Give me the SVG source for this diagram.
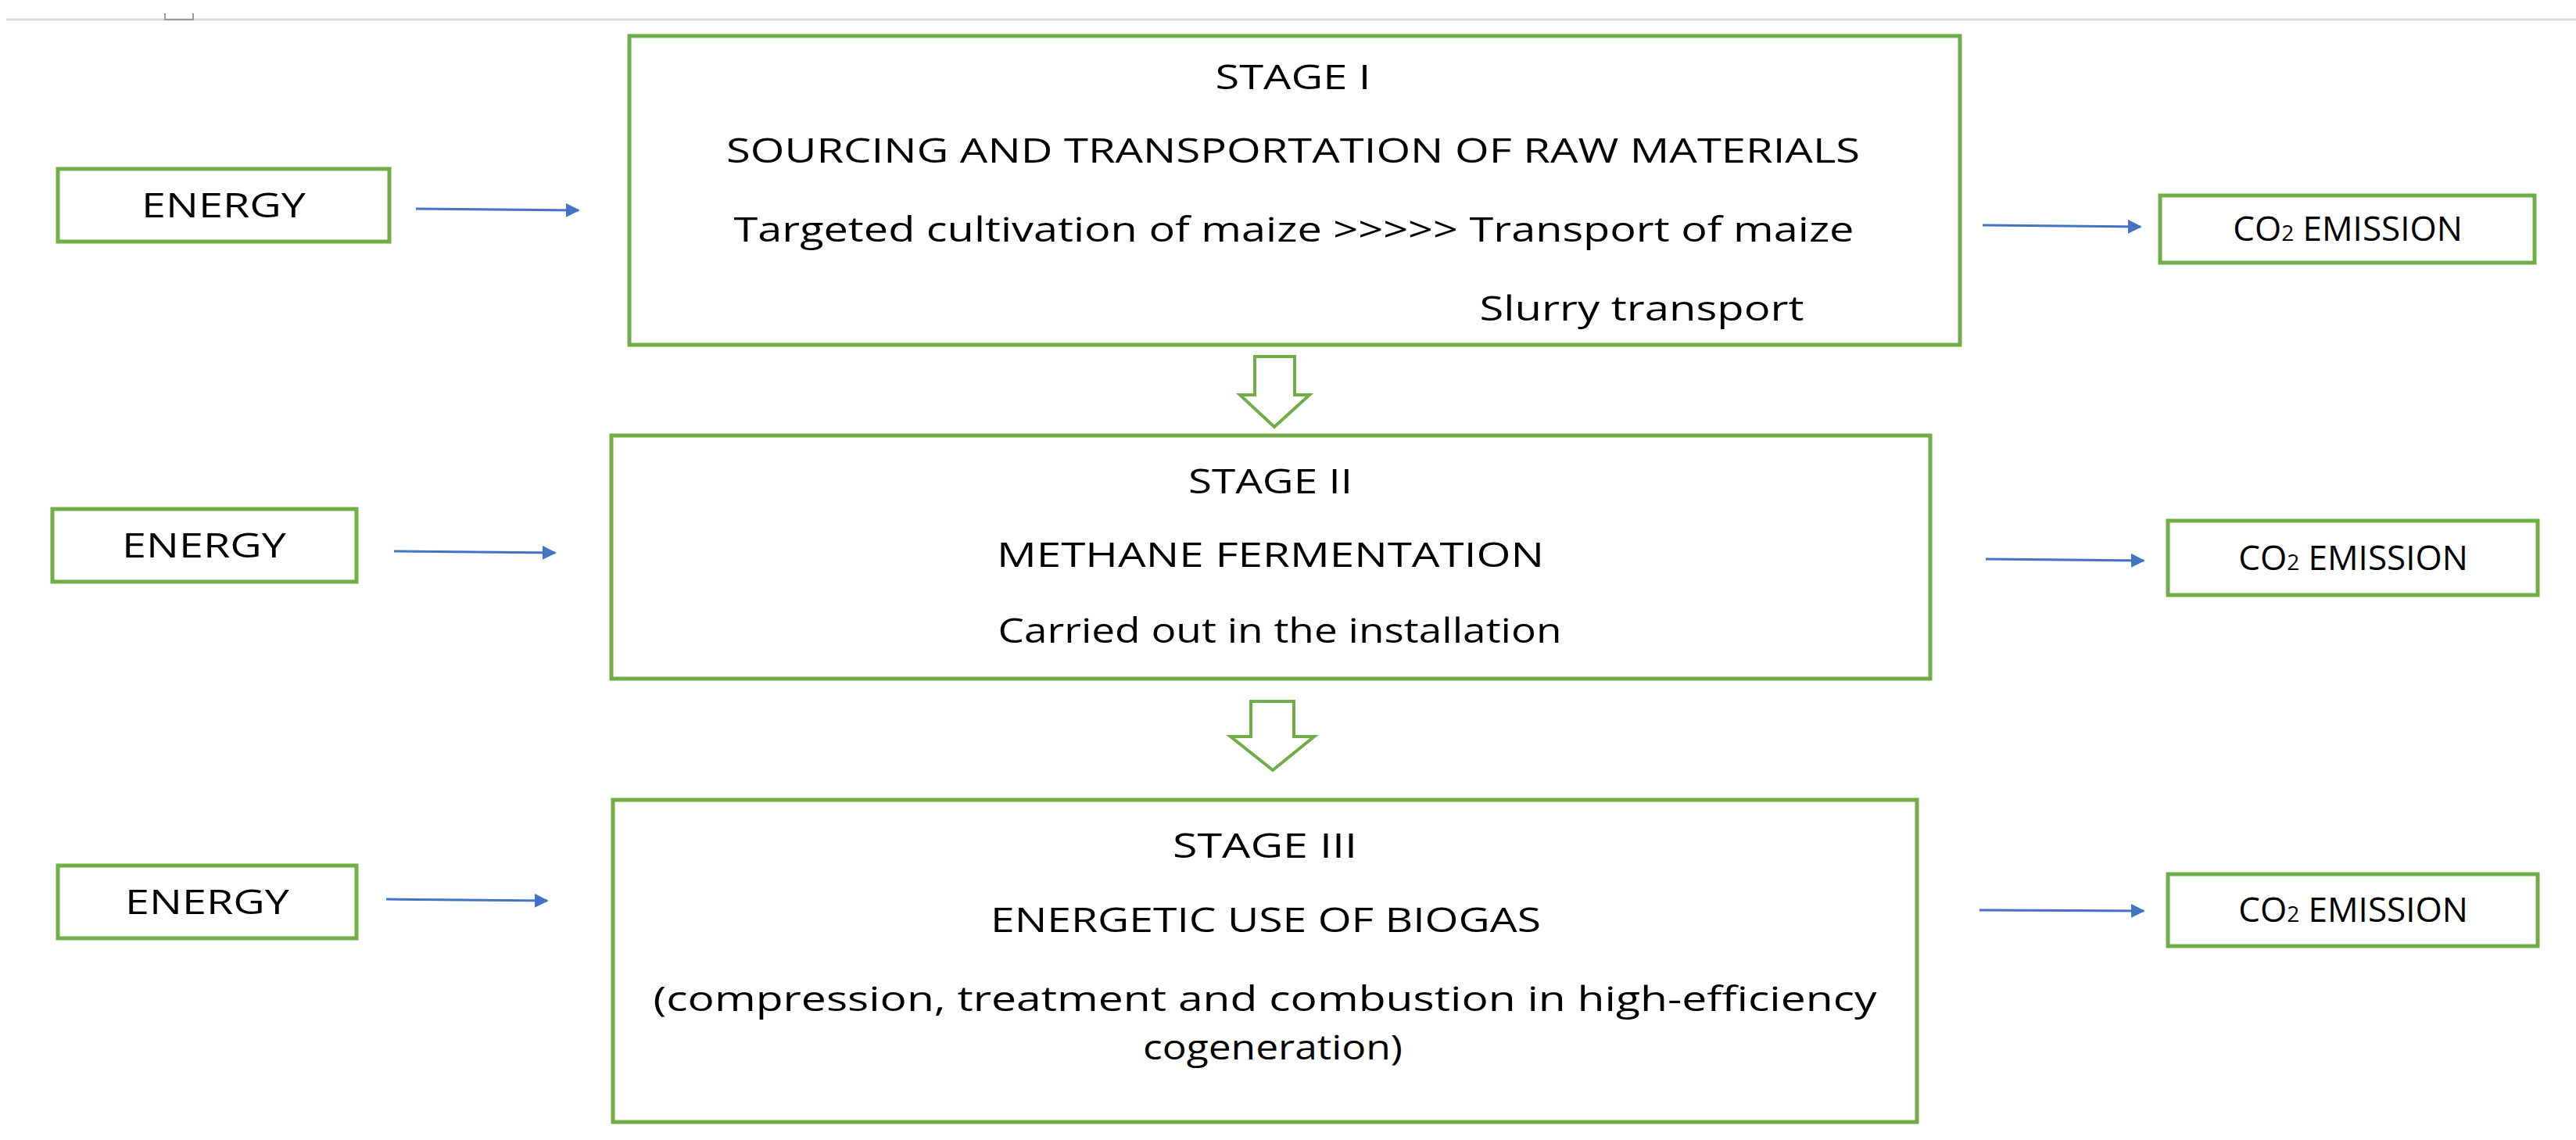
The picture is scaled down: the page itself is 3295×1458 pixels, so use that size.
<svg xmlns="http://www.w3.org/2000/svg" width="3295" height="1458" viewBox="0 0 3295 1458">
<style>
.box{fill:#fff;stroke:#70AD47;stroke-width:5}
.t{font-family:"Open Sans","Liberation Sans",sans-serif;font-size:44px;fill:#000;text-anchor:middle}
.c{stroke:#4472C4;stroke-width:3;fill:none}
.big{fill:#fff;stroke:#70AD47;stroke-width:4}
</style>
<defs><marker id="a" viewBox="0 0 10 10" refX="9" refY="5" markerWidth="6" markerHeight="6" orient="auto" markerUnits="strokeWidth"><path d="M0,0L10,5L0,10z" fill="#4472C4"/></marker></defs>
<rect width="3295" height="1458" fill="#fff"/>
<line x1="8" y1="25" x2="3295" y2="25" stroke="#d9d9d9" stroke-width="3"/>
<path d="M211,17V25H247V17" fill="none" stroke="#999" stroke-width="2"/>
<g id="stage1"><rect class="box" x="805" y="46" width="1702" height="395"/>
<text class="t" x="1654" y="114" textLength="199" lengthAdjust="spacingAndGlyphs">STAGE I</text>
<text class="t" x="1654" y="208" textLength="1450" lengthAdjust="spacingAndGlyphs">SOURCING AND TRANSPORTATION OF RAW MATERIALS</text>
<text class="t" x="1655" y="309" textLength="1433" lengthAdjust="spacingAndGlyphs">Targeted cultivation of maize &gt;&gt;&gt;&gt;&gt; Transport of maize</text>
<text class="t" x="2100" y="410" textLength="415" lengthAdjust="spacingAndGlyphs">Slurry transport</text></g>
<g id="stage2"><rect class="box" x="782" y="557" width="1687" height="311"/>
<text class="t" x="1625" y="631" textLength="210" lengthAdjust="spacingAndGlyphs">STAGE II</text>
<text class="t" x="1625" y="725" textLength="700" lengthAdjust="spacingAndGlyphs">METHANE FERMENTATION</text>
<text class="t" x="1637" y="822" textLength="721" lengthAdjust="spacingAndGlyphs">Carried out in the installation</text></g>
<g id="stage3"><rect class="box" x="784" y="1023" width="1668" height="412"/>
<text class="t" x="1618" y="1097" textLength="236" lengthAdjust="spacingAndGlyphs">STAGE III</text>
<text class="t" x="1619" y="1192" textLength="704" lengthAdjust="spacingAndGlyphs">ENERGETIC USE OF BIOGAS</text>
<text class="t" x="1618" y="1293" textLength="1565" lengthAdjust="spacingAndGlyphs">(compression, treatment and combustion in high-efficiency</text>
<text class="t" x="1628" y="1355" textLength="332" lengthAdjust="spacingAndGlyphs">cogeneration)</text></g>
<g id="energy1"><rect class="box" x="74" y="216" width="424" height="93"/><text class="t" x="286" y="278" textLength="210" lengthAdjust="spacingAndGlyphs">ENERGY</text></g>
<g id="energy2"><rect class="box" x="67" y="651" width="389" height="93"/><text class="t" x="261" y="713" textLength="210" lengthAdjust="spacingAndGlyphs">ENERGY</text></g>
<g id="energy3"><rect class="box" x="74" y="1107" width="382" height="93"/><text class="t" x="265" y="1169" textLength="210" lengthAdjust="spacingAndGlyphs">ENERGY</text></g>
<g id="co2a"><rect class="box" x="2763" y="250" width="479" height="86"/><text class="t" x="3003" y="308">CO<tspan font-size="28">2</tspan> EMISSION</text></g>
<g id="co2b"><rect class="box" x="2773" y="666" width="473" height="95"/><text class="t" x="3010" y="729">CO<tspan font-size="28">2</tspan> EMISSION</text></g>
<g id="co2c"><rect class="box" x="2773" y="1118" width="473" height="92"/><text class="t" x="3010" y="1179">CO<tspan font-size="28">2</tspan> EMISSION</text></g>
<g id="connectors">
<line class="c" x1="532" y1="267" x2="740" y2="269" marker-end="url(#a)"/>
<line class="c" x1="504" y1="705" x2="710" y2="707" marker-end="url(#a)"/>
<line class="c" x1="494" y1="1150" x2="700" y2="1152" marker-end="url(#a)"/>
<line class="c" x1="2536" y1="288" x2="2738" y2="290" marker-end="url(#a)"/>
<line class="c" x1="2540" y1="715" x2="2742" y2="717" marker-end="url(#a)"/>
<line class="c" x1="2532" y1="1164" x2="2742" y2="1165" marker-end="url(#a)"/>
<path class="big" d="M1605,456H1656V505H1675L1630,546L1586,505H1605Z"/>
<path class="big" d="M1600,897H1655V942H1681L1628,985L1574,942H1600Z"/>
</g>
</svg>
